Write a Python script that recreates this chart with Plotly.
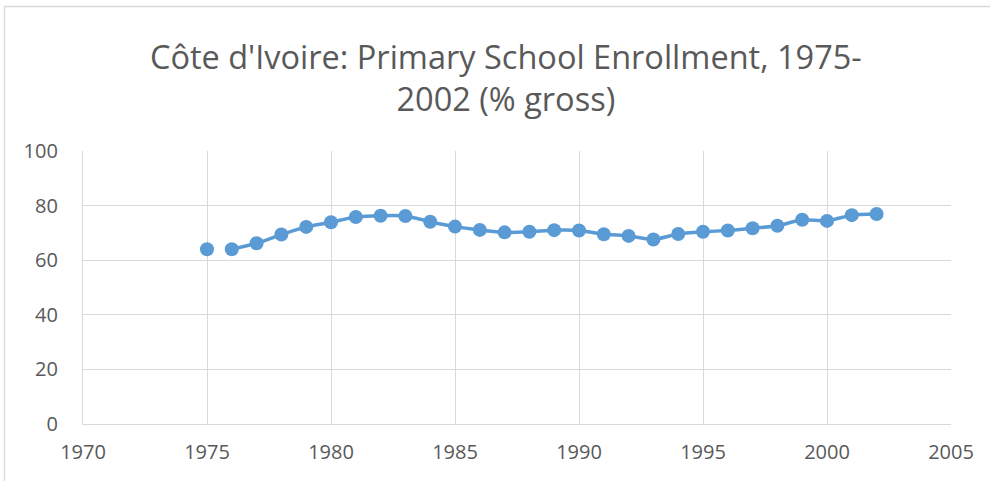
import plotly.graph_objects as go

years = list(range(1975, 2003))
enrollment = [64.0, 64.0, 66.2, 69.4, 72.2, 73.9, 75.8, 76.3, 76.2, 74.1,
              72.3, 71.1, 70.2, 70.4, 71.0, 70.9, 69.5, 68.9, 67.6, 69.6,
              70.4, 70.9, 71.7, 72.6, 74.8, 74.4, 76.5, 76.9]
x_ticks = [1970, 1975, 1980, 1985, 1990, 1995, 2000, 2005]
y_ticks = [0, 20, 40, 60, 80, 100]

color = "#5b9bd5"
fig = go.Figure()
fig.add_trace(go.Scatter(x=years[:1], y=enrollment[:1], mode="markers",
                         marker=dict(size=14, color=color), showlegend=False))
fig.add_trace(go.Scatter(x=years[1:], y=enrollment[1:], mode="lines+markers",
                         line=dict(color=color, width=3.5, shape="spline", smoothing=0.6),
                         marker=dict(size=14, color=color), showlegend=False))

W, H = 990, 481
ml, mr, mt, mb = 83, 39, 151, 57
pw, ph = W - ml - mr, H - mt - mb

def px(xp):
    return (xp - ml) / pw

def py(yp):
    return (H - mb - yp) / ph

fig.update_layout(
    width=W, height=H,
    margin=dict(l=ml, r=mr, t=mt, b=mb),
    paper_bgcolor="white", plot_bgcolor="white",
    font=dict(family="Open Sans, Liberation Sans, sans-serif", color="#595959"),
    title=dict(text="Côte d'Ivoire: Primary School Enrollment, 1975-<br>2002 (% gross)",
               x=0.511, xanchor="center", y=(H - 69) / H, yanchor="middle",
               font=dict(size=32.5, color="#595959")),
    xaxis=dict(range=[1970, 2005], tickvals=x_ticks, showgrid=True, gridcolor="#d9d9d9",
               gridwidth=1.3, zeroline=False, showline=True, linecolor="#d9d9d9",
               linewidth=1.3, tickfont=dict(size=20, color="#595959"), ticks="",
               ticklabelstandoff=10),
    yaxis=dict(range=[0, 100], tickvals=y_ticks, showgrid=True, gridcolor="#d9d9d9",
               gridwidth=1.3, zeroline=False, showline=True, linecolor="#d9d9d9",
               linewidth=1.3, tickfont=dict(size=20, color="#595959"), ticks="",
               ticklabelstandoff=20),
    shapes=[dict(type="rect", xref="paper", yref="paper",
                 x0=px(4.5), x1=px(1000), y0=py(6.5), y1=py(500),
                 line=dict(color="#d9d9d9", width=1.3), layer="below")],
)

fig.write_html("out.html", config={"displayModeBar": False},
               post_script="document.body.style.margin='0';")
